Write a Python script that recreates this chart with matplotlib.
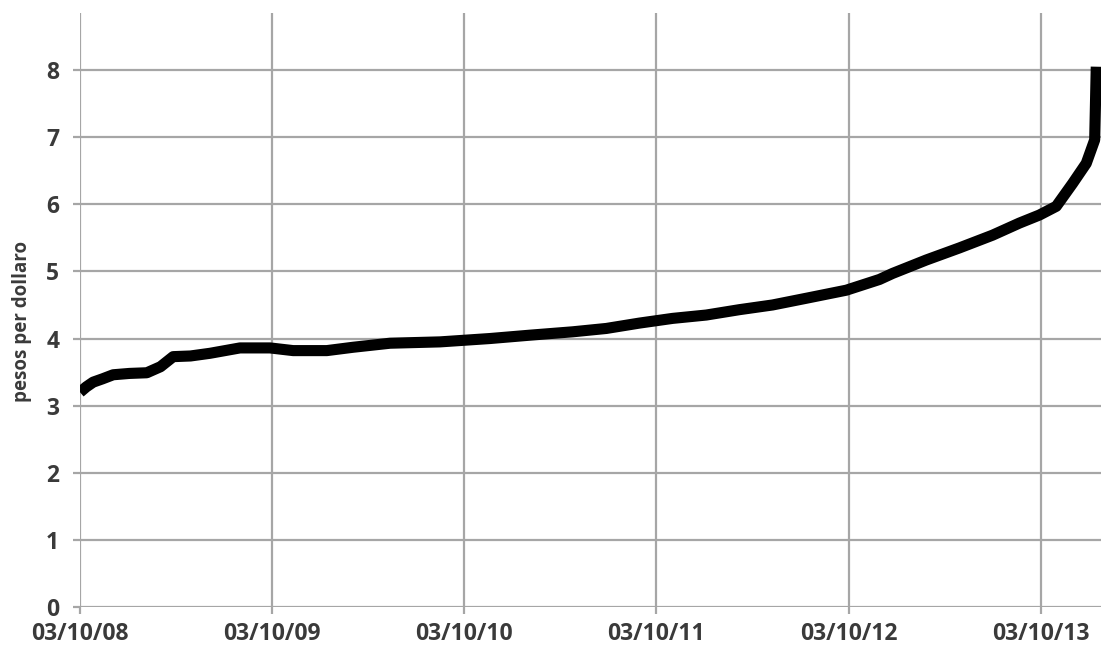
import matplotlib
matplotlib.use("Agg")
import matplotlib.pyplot as plt
import matplotlib.dates as mdates
import pandas as pd

# Peso / dollar exchange rate, Oct 2008 - Jan 2014
dates = [
    "2008-10-03", "2008-10-15", "2008-10-28", "2008-11-15", "2008-12-05",
    "2009-01-05", "2009-02-07", "2009-03-05", "2009-03-29", "2009-05-01",
    "2009-06-07", "2009-08-03", "2009-09-29", "2009-11-12", "2010-01-15",
    "2010-03-06", "2010-05-15", "2010-08-18", "2010-11-21", "2011-02-05",
    "2011-04-27", "2011-06-30", "2011-09-01", "2011-11-03", "2012-01-06",
    "2012-03-09", "2012-05-11", "2012-07-14", "2012-09-28", "2012-11-30",
    "2012-12-25", "2013-02-27", "2013-05-01", "2013-07-03", "2013-08-23",
    "2013-09-30", "2013-11-01", "2013-12-02", "2013-12-28", "2014-01-13",
    "2014-01-16",
]
pesos = [
    3.20, 3.28, 3.35, 3.40, 3.46,
    3.48, 3.49, 3.58, 3.73, 3.74,
    3.78, 3.86, 3.86, 3.82, 3.82,
    3.87, 3.93, 3.95, 4.00, 4.05,
    4.10, 4.15, 4.23, 4.30, 4.35,
    4.43, 4.50, 4.60, 4.72, 4.88,
    4.97, 5.17, 5.35, 5.54, 5.72,
    5.84, 5.97, 6.31, 6.61, 6.96,
    8.05,
]
tick_dates = ["2008-10-03", "2009-10-03", "2010-10-03",
              "2011-10-03", "2012-10-03", "2013-10-03"]

x = pd.to_datetime(dates)
ticks = pd.to_datetime(tick_dates)

grid_col = "#a6a6a6"
txt_col = "#3a3a3a"
font = "Open Sans"

fig = plt.figure(figsize=(11.01, 6.53), dpi=100)
ax = fig.add_axes([80 / 1101, 1 - 607 / 653, 1 - 80 / 1101, (607 - 13) / 653])

ax.plot(x, pesos, color="black", lw=8, solid_capstyle="butt", solid_joinstyle="round")

ax.set_xlim(pd.Timestamp("2008-10-03"), pd.Timestamp("2014-01-25"))
ax.set_ylim(0, 8.85)
ax.set_yticks(range(0, 9))
ax.set_xticks(ticks)
ax.xaxis.set_major_formatter(mdates.DateFormatter("%d/%m/%y"))

ax.grid(True, color=grid_col, lw=1.6)
ax.set_axisbelow(True)
for s in ax.spines.values():
    s.set_visible(False)
ax.tick_params(length=5, width=1.6, color=grid_col, labelcolor=txt_col)
ax.tick_params(axis="x", pad=6)
ax.tick_params(axis="y", pad=10)

for lab in ax.get_xticklabels() + ax.get_yticklabels():
    lab.set_fontfamily(font)
    lab.set_fontweight("bold")
    lab.set_fontsize(16.5)

ax.set_ylabel("pesos per dollaro", fontfamily=font, fontweight="bold",
              fontsize=13.5, color=txt_col)
ax.yaxis.set_label_coords(-0.047, 0.48)

fig.savefig("out.png", dpi=100)
